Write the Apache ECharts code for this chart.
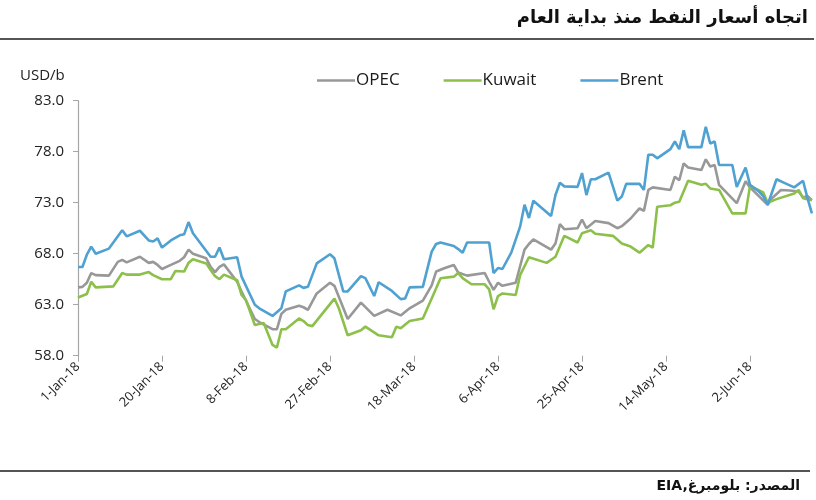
<!DOCTYPE html>
<html>
<head>
<meta charset="utf-8">
<script src="https://cdn.jsdelivr.net/npm/echarts@6/dist/echarts.min.js"></script>
<style>
html,body{margin:0;padding:0;background:#fff;}
#chart{width:816px;height:500px;}
</style>
</head>
<body>
<div id="chart"></div>
<script>
const titleText = 'اتجاه أسعار النفط منذ بداية العام';
const sourceText = 'EIA,المصدر: بلومبرغ';
const unitText = 'USD/b';
const seriesNames = ['OPEC', 'Kuwait', 'Brent'];
const yTicks = [58, 63, 68, 73, 78, 83];
const startDate = '2018-01-01';
const tickDays = 19;

const opecDates = ['2018-01-01','2018-01-02','2018-01-03','2018-01-04','2018-01-05','2018-01-08','2018-01-10','2018-01-11','2018-01-12','2018-01-15','2018-01-17','2018-01-18','2018-01-19','2018-01-20','2018-01-22','2018-01-24','2018-01-25','2018-01-26','2018-01-27','2018-01-30','2018-01-31','2018-02-01','2018-02-02','2018-02-03','2018-02-06','2018-02-07','2018-02-10','2018-02-11','2018-02-14','2018-02-15','2018-02-16','2018-02-17','2018-02-20','2018-02-21','2018-02-22','2018-02-24','2018-02-27','2018-02-28','2018-03-03','2018-03-06','2018-03-09','2018-03-12','2018-03-15','2018-03-17','2018-03-20','2018-03-22','2018-03-23','2018-03-25','2018-03-27','2018-03-28','2018-03-30','2018-04-03','2018-04-04','2018-04-05','2018-04-06','2018-04-07','2018-04-10','2018-04-12','2018-04-13','2018-04-14','2018-04-18','2018-04-19','2018-04-20','2018-04-21','2018-04-24','2018-04-25','2018-04-26','2018-04-28','2018-05-01','2018-05-03','2018-05-04','2018-05-06','2018-05-08','2018-05-09','2018-05-10','2018-05-11','2018-05-15','2018-05-16','2018-05-17','2018-05-18','2018-05-19','2018-05-22','2018-05-23','2018-05-24','2018-05-25','2018-05-26','2018-05-30','2018-06-01','2018-06-02','2018-06-06','2018-06-07','2018-06-09','2018-06-11','2018-06-13','2018-06-14','2018-06-15','2018-06-16'];
const opecValues = [64.7,64.75,65.15,66.1,65.9,65.85,67.2,67.4,67.15,67.7,67.1,67.2,66.9,66.5,66.9,67.3,67.65,68.4,68.0,67.55,66.7,66.2,66.7,66.95,65.25,64.3,61.6,61.3,60.6,60.6,62.1,62.5,62.9,62.75,62.5,64.1,65.15,64.85,61.6,63.2,61.9,62.5,61.95,62.65,63.4,64.9,66.25,66.6,66.9,66.15,65.85,66.1,65.25,64.45,65.15,64.85,65.15,68.4,68.95,69.4,68.4,69.0,70.9,70.4,70.5,71.35,70.5,71.2,71.0,70.5,70.7,71.45,72.45,72.2,74.25,74.5,74.25,75.55,75.2,76.85,76.45,76.2,77.25,76.55,76.7,74.75,72.95,75.1,74.5,72.8,73.45,74.25,74.2,74.1,73.5,73.65,73.25];

const kuwaitDates = ['2018-01-01','2018-01-03','2018-01-04','2018-01-05','2018-01-09','2018-01-11','2018-01-12','2018-01-15','2018-01-17','2018-01-18','2018-01-20','2018-01-22','2018-01-23','2018-01-25','2018-01-26','2018-01-27','2018-01-30','2018-01-31','2018-02-01','2018-02-02','2018-02-03','2018-02-06','2018-02-07','2018-02-08','2018-02-10','2018-02-12','2018-02-14','2018-02-15','2018-02-16','2018-02-17','2018-02-20','2018-02-21','2018-02-22','2018-02-23','2018-02-28','2018-03-01','2018-03-03','2018-03-06','2018-03-07','2018-03-10','2018-03-13','2018-03-14','2018-03-15','2018-03-17','2018-03-20','2018-03-22','2018-03-24','2018-03-27','2018-03-28','2018-03-29','2018-03-31','2018-04-03','2018-04-04','2018-04-05','2018-04-06','2018-04-07','2018-04-10','2018-04-11','2018-04-13','2018-04-17','2018-04-19','2018-04-21','2018-04-24','2018-04-25','2018-04-27','2018-04-28','2018-05-02','2018-05-04','2018-05-06','2018-05-08','2018-05-10','2018-05-11','2018-05-12','2018-05-15','2018-05-16','2018-05-17','2018-05-19','2018-05-22','2018-05-23','2018-05-24','2018-05-26','2018-05-29','2018-06-01','2018-06-02','2018-06-05','2018-06-06','2018-06-08','2018-06-12','2018-06-13','2018-06-14','2018-06-16'];
const kuwaitValues = [63.7,64.05,65.25,64.7,64.8,66.1,65.95,65.95,66.2,65.9,65.5,65.5,66.3,66.25,67.1,67.45,67.05,66.4,65.8,65.5,65.95,65.4,63.95,63.45,61.0,61.2,59.05,58.8,60.6,60.6,61.65,61.4,61.0,60.9,63.6,62.65,60.0,60.5,60.85,60.0,59.8,60.85,60.7,61.4,61.65,63.6,65.6,65.75,66.1,65.6,65.0,65.0,64.5,62.55,63.85,64.1,63.95,65.9,67.65,67.1,67.7,69.75,69.1,70.0,70.3,69.95,69.75,69.0,68.7,68.1,68.85,68.6,72.6,72.75,73.0,73.1,75.15,74.75,74.85,74.4,74.25,71.95,71.95,74.65,74.0,73.0,73.35,73.9,74.25,73.45,73.25];

const brentDates = ['2018-01-01','2018-01-02','2018-01-03','2018-01-04','2018-01-05','2018-01-08','2018-01-11','2018-01-12','2018-01-15','2018-01-17','2018-01-18','2018-01-19','2018-01-20','2018-01-22','2018-01-24','2018-01-25','2018-01-26','2018-01-27','2018-01-31','2018-02-01','2018-02-02','2018-02-03','2018-02-06','2018-02-07','2018-02-10','2018-02-11','2018-02-14','2018-02-16','2018-02-17','2018-02-18','2018-02-20','2018-02-21','2018-02-22','2018-02-24','2018-02-27','2018-02-28','2018-03-02','2018-03-03','2018-03-06','2018-03-07','2018-03-09','2018-03-10','2018-03-13','2018-03-15','2018-03-16','2018-03-17','2018-03-20','2018-03-22','2018-03-23','2018-03-24','2018-03-27','2018-03-28','2018-03-29','2018-03-30','2018-04-04','2018-04-05','2018-04-06','2018-04-07','2018-04-09','2018-04-11','2018-04-12','2018-04-13','2018-04-14','2018-04-18','2018-04-19','2018-04-20','2018-04-21','2018-04-24','2018-04-25','2018-04-26','2018-04-27','2018-04-28','2018-05-01','2018-05-03','2018-05-04','2018-05-05','2018-05-08','2018-05-09','2018-05-10','2018-05-11','2018-05-12','2018-05-15','2018-05-16','2018-05-17','2018-05-18','2018-05-19','2018-05-22','2018-05-23','2018-05-24','2018-05-25','2018-05-26','2018-05-29','2018-05-30','2018-06-01','2018-06-02','2018-06-04','2018-06-05','2018-06-06','2018-06-08','2018-06-10','2018-06-12','2018-06-14','2018-06-15','2018-06-16'];
const brentValues = [66.7,66.7,67.9,68.7,68.0,68.5,70.3,69.7,70.25,69.3,69.2,69.5,68.6,69.3,69.8,69.9,71.1,70.0,67.7,67.7,68.6,67.45,67.65,65.75,63.0,62.65,61.9,62.65,64.3,64.5,64.9,64.65,64.75,67.05,67.95,67.55,64.3,64.3,65.8,65.6,63.85,65.2,64.35,63.55,63.6,64.7,64.75,68.2,68.95,69.1,68.75,68.45,68.1,69.1,69.1,66.1,66.6,66.5,68.1,70.65,72.8,71.5,73.2,71.7,73.75,74.95,74.6,74.55,75.9,73.75,75.3,75.3,75.95,73.2,73.6,74.85,74.85,74.25,77.7,77.7,77.35,78.25,79.0,78.25,80.1,78.45,78.45,80.45,78.8,79.0,76.7,76.7,74.55,76.45,74.75,74.1,73.65,72.8,75.3,74.9,74.5,75.15,73.45,71.95];

const MONTHS = ['Jan','Feb','Mar','Apr','May','Jun','Jul','Aug','Sep','Oct','Nov','Dec'];
function toUTC(s){ const p = s.split('-').map(Number); return Date.UTC(p[0], p[1]-1, p[2]); }
const t0 = toUTC(startDate);
function dayOf(s){ return Math.round((toUTC(s) - t0) / 86400000); }
function dayLabel(d){ const dt = new Date(t0 + d*86400000); return dt.getUTCDate() + '-' + MONTHS[dt.getUTCMonth()] + '-' + String(dt.getUTCFullYear()).slice(2); }
function pairs(dates, vals){ return dates.map((d,i) => [dayOf(d), vals[i]]); }

const colors = { OPEC: '#989898', Kuwait: '#8cc04b', Brent: '#4fa1d1' };
const seriesData = { OPEC: pairs(opecDates, opecValues), Kuwait: pairs(kuwaitDates, kuwaitValues), Brent: pairs(brentDates, brentValues) };

const chart = echarts.init(document.getElementById('chart'), null, { renderer: 'canvas' });
const axisColor = '#a6a6a6';
chart.setOption({
  animation: false,
  backgroundColor: '#ffffff',
  textStyle: { fontFamily: 'Open Sans' },
  grid: { left: 78, top: 100.7, height: 255, width: 756, containLabel: false, outerBoundsMode: 'none' },
  legend: {
    data: seriesNames,
    left: 317, top: 72, padding: 0,
    icon: 'rect', itemWidth: 38, itemHeight: 2.5, itemGap: 44,
    textStyle: { fontSize: 17, color: '#1a1a1a', fontFamily: 'Open Sans', padding: [0, 0, 0, -4] }
  },
  xAxis: {
    type: 'value', min: 0, max: tickDays * 9, interval: tickDays,
    axisLine: { show: false },
    axisTick: { show: true, length: 6, lineStyle: { color: axisColor, width: 1 } },
    splitLine: { show: false },
    axisLabel: {
      rotate: 45, margin: 9, fontSize: 13, color: '#222',
      formatter: v => (v % tickDays === 0 && v <= 152) ? dayLabel(v) : ''
    }
  },
  yAxis: {
    type: 'value', min: yTicks[0], max: yTicks[yTicks.length-1], interval: 5,
    axisLine: { show: true, lineStyle: { color: axisColor, width: 1.2 } },
    axisTick: { show: true, length: 5, lineStyle: { color: axisColor } },
    splitLine: { show: false },
    axisLabel: { margin: 14, fontSize: 15, color: '#222', formatter: v => v.toFixed(1) }
  },
  series: seriesNames.map(n => ({
    name: n, type: 'line', data: seriesData[n], showSymbol: false, symbol: 'none',
    lineStyle: { color: colors[n], width: 2.6 }, itemStyle: { color: colors[n] }
  })),
  graphic: [
    { type: 'text', right: 8, top: 9, style: { text: titleText, font: 'bold 18px "DejaVu Sans"', fill: '#111' } },
    { type: 'line', shape: { x1: 0, y1: 39, x2: 814, y2: 39 }, style: { stroke: '#555', lineWidth: 2 } },
    { type: 'text', left: 20, top: 68, style: { text: unitText, font: '15px "Open Sans"', fill: '#222' } },
    { type: 'line', shape: { x1: 0, y1: 471, x2: 810, y2: 471 }, style: { stroke: '#555', lineWidth: 2 } },
    { type: 'text', right: 16, top: 479, style: { text: sourceText, font: 'bold 14px "DejaVu Sans"', fill: '#111' } }
  ]
});
</script>
</body>
</html>
